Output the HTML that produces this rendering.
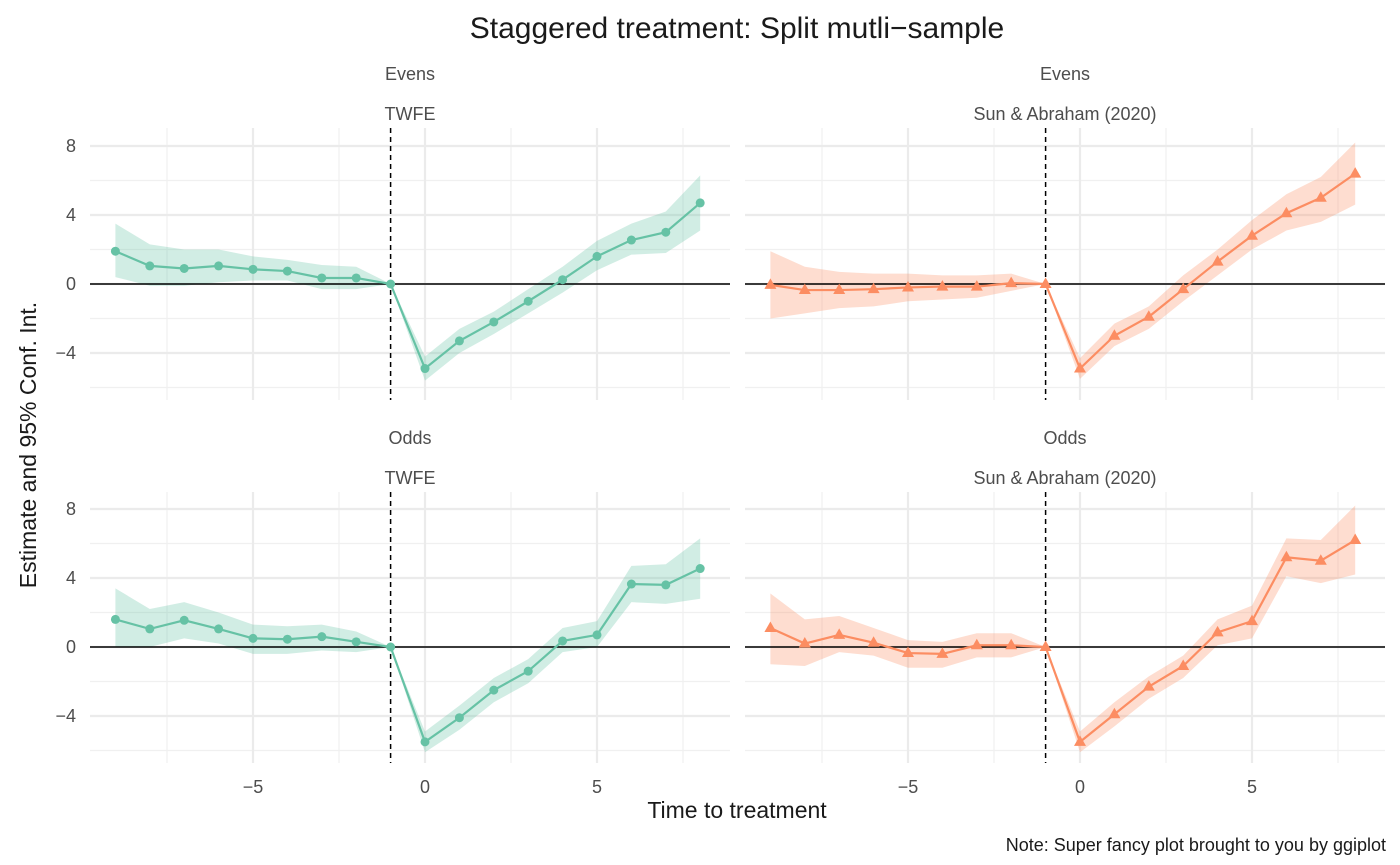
<!DOCTYPE html>
<html><head><meta charset="utf-8"><style>
html,body{margin:0;padding:0;background:#fff;}
svg{display:block;font-family:"Liberation Sans","DejaVu Sans",sans-serif;}
</style></head><body>
<svg id="chart" width="1400" height="865" viewBox="0 0 1400 865">
<text x="737" y="38" text-anchor="middle" font-size="30" fill="#1a1a1a">Staggered treatment: Split mutli−sample</text>
<text transform="translate(36,445) rotate(-90)" text-anchor="middle" font-size="23" fill="#1a1a1a">Estimate and 95% Conf. Int.</text>
<text x="737" y="818" text-anchor="middle" font-size="23" fill="#1a1a1a">Time to treatment</text>
<text x="1386" y="851" text-anchor="end" font-size="18" fill="#1a1a1a">Note: Super fancy plot brought to you by ggiplot</text>
<g id="panels"></g>
</svg>
<script>
const periods=[-9,-8,-7,-6,-5,-4,-3,-2,-1,0,1,2,3,4,5,6,7,8];
const evensTwfeEst=[1.9,1.05,0.9,1.05,0.85,0.75,0.35,0.35,0,-4.9,-3.3,-2.2,-1.0,0.25,1.6,2.55,3.0,4.7];
const evensTwfeLo=[0.4,-0.1,-0.1,0.1,0.2,0.2,-0.3,-0.3,0,-5.6,-4.0,-2.9,-1.7,-0.5,0.8,1.7,1.8,3.1];
const evensTwfeHi=[3.5,2.3,2.0,2.0,1.6,1.4,1.1,1.0,0,-4.2,-2.6,-1.6,-0.3,1.0,2.5,3.5,4.2,6.3];
const evensSaEst=[-0.05,-0.35,-0.35,-0.3,-0.2,-0.15,-0.15,0.05,0,-4.9,-3.0,-1.9,-0.3,1.3,2.8,4.1,5.0,6.4];
const evensSaLo=[-2.0,-1.7,-1.4,-1.3,-1.0,-0.9,-0.8,-0.4,0,-5.5,-3.6,-2.6,-1.0,0.5,2.0,3.1,3.6,4.6];
const evensSaHi=[1.9,1.0,0.7,0.6,0.6,0.5,0.5,0.6,0,-4.3,-2.3,-1.3,0.5,2.0,3.7,5.2,6.2,8.2];
const oddsTwfeEst=[1.6,1.05,1.55,1.05,0.5,0.45,0.6,0.3,0,-5.5,-4.1,-2.5,-1.4,0.35,0.7,3.65,3.6,4.55];
const oddsTwfeLo=[0,0,0.5,0.2,-0.4,-0.4,-0.2,-0.3,0,-6.1,-4.8,-3.2,-2.1,-0.3,0,2.6,2.5,2.8];
const oddsTwfeHi=[3.4,2.2,2.6,2.0,1.3,1.2,1.3,0.9,0,-4.9,-3.4,-1.8,-0.7,1.1,1.5,4.7,4.8,6.3];
const oddsSaEst=[1.1,0.2,0.7,0.25,-0.35,-0.4,0.1,0.1,0,-5.5,-3.9,-2.3,-1.1,0.85,1.5,5.2,5.0,6.2];
const oddsSaLo=[-1.0,-1.1,-0.3,-0.5,-1.2,-1.2,-0.6,-0.6,0,-6.1,-4.6,-3.0,-1.8,0.1,0.5,4.1,3.7,4.2];
const oddsSaHi=[3.1,1.6,1.8,1.1,0.4,0.3,0.8,0.8,0,-4.9,-3.2,-1.7,-0.5,1.6,2.4,6.3,6.2,8.2];
const xTicks=[-5,0,5];
const xTickLabels=["−5","0","5"];
const yTicks=[-4,0,4,8];
const yTickLabels=["−4","0","4","8"];
const panels=[
 {name:"evens-twfe",s1:"Evens",s2:"TWFE",x0:425,y0:284,top:128,bot:400,est:evensTwfeEst,lo:evensTwfeLo,hi:evensTwfeHi,col:"#66c2a5",tri:false,yl:true,xl:false},
 {name:"evens-sa",s1:"Evens",s2:"Sun & Abraham (2020)",x0:1080,y0:284,top:128,bot:400,est:evensSaEst,lo:evensSaLo,hi:evensSaHi,col:"#fc8d62",tri:true,yl:false,xl:false},
 {name:"odds-twfe",s1:"Odds",s2:"TWFE",x0:425,y0:647,top:492,bot:763,est:oddsTwfeEst,lo:oddsTwfeLo,hi:oddsTwfeHi,col:"#66c2a5",tri:false,yl:true,xl:true},
 {name:"odds-sa",s1:"Odds",s2:"Sun & Abraham (2020)",x0:1080,y0:647,top:492,bot:763,est:oddsSaEst,lo:oddsSaLo,hi:oddsSaHi,col:"#fc8d62",tri:true,yl:false,xl:true}
];
const NS="http://www.w3.org/2000/svg";
const root=document.getElementById("panels");
function mk(tag,attrs,parent){const e=document.createElementNS(NS,tag);for(const k in attrs)e.setAttribute(k,attrs[k]);parent.appendChild(e);return e;}
panels.forEach(p=>{
 const xs=v=>p.x0+v*34.4, ys=v=>p.y0-v*17.25;
 const L=p.x0-335, R=p.x0+305;
 const g=mk("g",{},root);
 
 
 const cx=(L+R)/2;
 const t1=mk("text",{x:cx,y:p.top-48,"text-anchor":"middle","font-size":"18",fill:"#4d4d4d"},g);t1.textContent=p.s1;
 
 
 const t2=mk("text",{x:cx,y:p.top-8,"text-anchor":"middle","font-size":"18",fill:"#4d4d4d"},g);t2.textContent=p.s2;
 
 
 [-7.5,-2.5,2.5,7.5].forEach(v=>mk("line",{x1:xs(v),x2:xs(v),y1:p.top,y2:p.bot,stroke:"#f0f0f0","stroke-width":1.2},g));
 [-6,-2,2,6].forEach(v=>mk("line",{x1:L,x2:R,y1:ys(v),y2:ys(v),stroke:"#f0f0f0","stroke-width":1.2},g));
 xTicks.forEach((v,i)=>{mk("line",{x1:xs(v),x2:xs(v),y1:p.top,y2:p.bot,stroke:"#ebebeb","stroke-width":2.2},g);
  if(p.xl){const t=mk("text",{x:xs(v),y:p.bot+30,"text-anchor":"middle","font-size":"18",fill:"#4d4d4d"},g);t.textContent=xTickLabels[i];
   
   }});
 yTicks.forEach((v,i)=>{mk("line",{x1:L,x2:R,y1:ys(v),y2:ys(v),stroke:"#ebebeb","stroke-width":2.2},g);
  if(p.yl){const t=mk("text",{x:76,y:ys(v)+6,"text-anchor":"end","font-size":"18",fill:"#4d4d4d"},g);t.textContent=yTickLabels[i];
   
   }});
 let d="M"+periods.map((v,i)=>xs(v)+","+ys(p.hi[i])).join("L");
 for(let i=periods.length-1;i>=0;i--)d+="L"+xs(periods[i])+","+ys(p.lo[i]);
 const rib=mk("path",{d:d+"Z",fill:p.col,"fill-opacity":0.3},g);
 
 
 mk("line",{x1:L,x2:R,y1:ys(0),y2:ys(0),stroke:"#000","stroke-width":1.5},g);
 mk("line",{x1:xs(-1),x2:xs(-1),y1:p.top,y2:p.bot,stroke:"#000","stroke-width":1.5,"stroke-dasharray":"5,4"},g);
 const ln=mk("polyline",{points:periods.map((v,i)=>xs(v)+","+ys(p.est[i])).join(" "),fill:"none",stroke:p.col,"stroke-width":2.2},g);
 
 
 periods.forEach((v,i)=>{const x=xs(v),y=ys(p.est[i]);let m;
  if(p.tri)m=mk("polygon",{points:`${x},${y-6.5} ${x-6},${y+4} ${x+6},${y+4}`,fill:p.col},g);
  else m=mk("circle",{cx:x,cy:y,r:4.5,fill:p.col},g);
  
  });
});
</script>
</body></html>
